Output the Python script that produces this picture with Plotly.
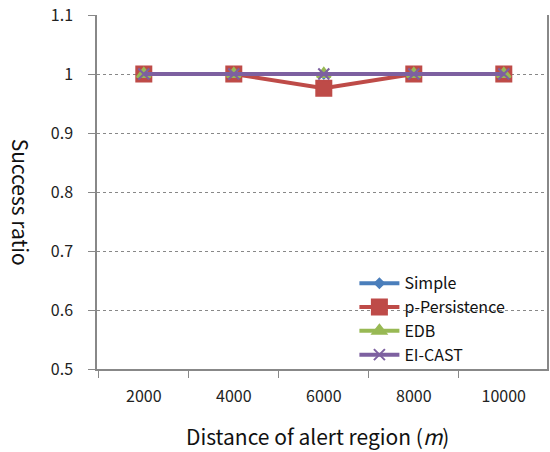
import plotly.graph_objects as go

categories = ["2000", "4000", "6000", "8000", "10000"]
simple = [1.0, 1.0, 1.0, 1.0, 1.0]
p_persistence = [1.0, 1.0, 0.976, 1.0, 1.0]
edb = [1.0, 1.0, 1.0, 1.0, 1.0]
ei_cast = [1.0, 1.0, 1.0, 1.0, 1.0]
y_ticks = [0.5, 0.6, 0.7, 0.8, 0.9, 1.0, 1.1]
y_tick_labels = ["0.5", "0.6", "0.7", "0.8", "0.9", "1", "1.1"]

FONT = "Noto Sans CJK KR, Noto Sans, sans-serif"

series = [
    ("Simple", simple, "#4a7ebb", "diamond", 7),
    ("p-Persistence", p_persistence, "#be4b48", "square", 15),
    ("EDB", edb, "#98b954", "triangle-up", 12),
    ("EI-CAST", ei_cast, "#7d60a0", "x-thin", 11),
]

fig = go.Figure()
for name, vals, color, sym, size in series:
    fig.add_trace(go.Scatter(
        x=categories, y=vals, name=name, mode="lines+markers",
        line=dict(color=color, width=4),
        marker=dict(symbol=sym, size=size, color=color,
                    line=dict(color=color, width=2)),
    ))

fig.update_layout(
    width=550, height=452,
    margin=dict(l=97, r=3, t=15, b=83, autoexpand=False),
    plot_bgcolor="white", paper_bgcolor="white",
    font=dict(family=FONT, size=16, color="#222222"),
    showlegend=True,
    legend=dict(x=0.572, y=0.29, xanchor="left", yanchor="top",
                bgcolor="rgba(0,0,0,0)", font=dict(size=16, color="#111111"),
                tracegroupgap=0, itemwidth=40),
    xaxis=dict(
        type="category", showline=True, linecolor="#888888", linewidth=1.5,
        ticks="outside", ticklen=7, tickcolor="#888888", tickson="boundaries",
        showgrid=False, ticklabelstandoff=12, automargin=False,
        range=[-0.52, 4.48],
    ),
    yaxis=dict(
        range=[0.5, 1.1], tickvals=y_ticks, ticktext=y_tick_labels,
        showline=True, linecolor="#888888", linewidth=1.5, mirror=True,
        ticks="outside", ticklen=7, tickcolor="#888888",
        showgrid=True, gridcolor="#888888", griddash="dot", gridwidth=1,
        zeroline=False, ticklabelstandoff=12, automargin=False,
    ),
    annotations=[
        dict(text="Success ratio", xref="paper", yref="paper",
             x=-0.169, y=0.47, xanchor="center", yanchor="middle",
             textangle=90, showarrow=False,
             font=dict(size=21, color="#111111")),
        dict(text="Distance of alert region (<i>m</i>)", xref="paper", yref="paper",
             x=0.489, y=-0.19, xanchor="center", yanchor="middle",
             showarrow=False, font=dict(size=21, color="#111111")),
    ],
)

fig.write_html("out.html", config={"displayModeBar": False},
               post_script="document.body.style.margin='0';document.body.style.overflow='hidden';")
